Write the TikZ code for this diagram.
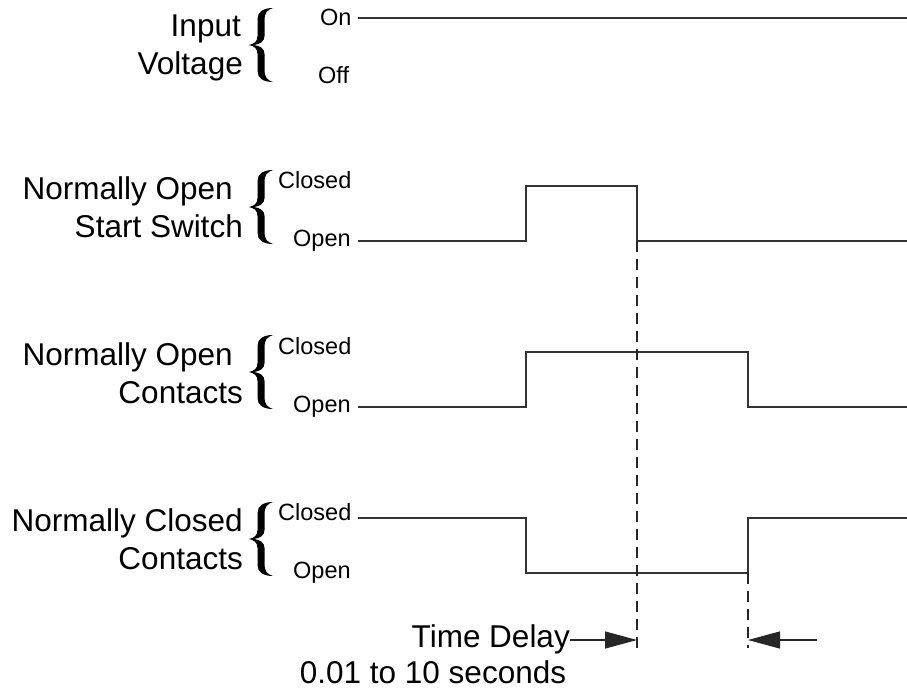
\documentclass[tikz,border=0pt]{standalone}
\usepackage{fontspec}
\setmainfont{Liberation Sans}
\usetikzlibrary{arrows.meta}
\tikzset{
  biglbl/.style={anchor=base east,inner sep=0pt,font=\fontsize{31.5}{31.5}\selectfont},
  smalllbl/.style={anchor=base west,inner sep=0pt,font=\fontsize{23.5}{23.5}\selectfont},
  wave/.style={line width=1.3pt,draw=black!80,line join=miter},
  guide/.style={line width=1.2pt,draw=black!85,dash pattern=on 11pt off 7pt},
  dimarrow/.style={line width=1.2pt,draw=black!85,-{Triangle[length=32pt,width=17pt]}},
  bigbrace/.pic={
    \fill[black] (24,-37) .. controls (14,-37) and (8.5,-33) .. (8.5,-26) -- (8.5,-9)
      .. controls (8.5,-3.5) and (5,-1) .. (0,0)
      .. controls (5,1) and (8.5,3.5) .. (8.5,9) -- (8.5,26)
      .. controls (8.5,33) and (14,37) .. (24,37)
      .. controls (18,35.5) and (15.5,31) .. (15.5,26) -- (15.5,9)
      .. controls (15.5,3.5) and (11,0.8) .. (5,0)
      .. controls (11,-0.8) and (15.5,-3.5) .. (15.5,-9) -- (15.5,-26)
      .. controls (15.5,-31) and (18,-35.5) .. (24,-37) -- cycle;
  }
}
\begin{document}
\begin{tikzpicture}[x=1pt,y=-1pt]
\useasboundingbox (0,0) rectangle (907,691);

% Input voltage
\node[biglbl] (in1) at (241,36) {Input};
\node[biglbl] (in2) at (243,74) {Voltage};
\pic at (249,45) {bigbrace};
\node[smalllbl] (on) at (320,25) {On};
\node[smalllbl] (off) at (318,83) {Off};
\draw[wave] (358,18) -- (907,18);

% Start switch
\node[biglbl] (ss1) at (233,199) {Normally Open};
\node[biglbl] (ss2) at (243,237) {Start Switch};
\pic at (249,207) {bigbrace};
\node[smalllbl] (ssc) at (278,188) {Closed};
\node[smalllbl] (sso) at (293,246) {Open};
\draw[wave] (358,241) -- (526,241) -- (526,186) -- (637,186) -- (637,241) -- (907,241);

% NO contacts
\node[biglbl] (no1) at (233,365) {Normally Open};
\node[biglbl] (no2) at (243,403) {Contacts};
\pic at (249,372) {bigbrace};
\node[smalllbl] (noc) at (278,354) {Closed};
\node[smalllbl] (noo) at (293,412) {Open};
\draw[wave] (358,407) -- (526,407) -- (526,352) -- (748,352) -- (748,407) -- (907,407);

% NC contacts
\node[biglbl] (nc1) at (243,531) {Normally Closed};
\node[biglbl] (nc2) at (243,569) {Contacts};
\pic at (249,539) {bigbrace};
\node[smalllbl] (ncc) at (278,520) {Closed};
\node[smalllbl] (nco) at (293,578) {Open};
\draw[wave] (358,518) -- (526,518) -- (526,573) -- (748,573) -- (748,518) -- (907,518);

% guides
\coordinate (g1t) at (637,241);
\coordinate (g1b) at (637,648);
\coordinate (g2t) at (748,573);
\coordinate (g2b) at (748,648);
\draw[guide] (g1t) -- (g1b);
\draw[guide] (g2t) -- (g2b);

% time delay
\node[anchor=base east,inner sep=0pt,font=\fontsize{31.5}{31.5}\selectfont] (td) at (570,647) {Time Delay};
\node[anchor=base,inner sep=0pt,font=\fontsize{31.5}{31.5}\selectfont] (sec) at (433,683) {0.01 to 10 seconds};
\coordinate (a1) at (637,640);
\coordinate (a2) at (748,640);
\coordinate (a2s) at (817,640);
\draw[dimarrow] (td.east |- a1) -- (a1);
\draw[dimarrow] (a2s) -- (a2);
\end{tikzpicture}
\end{document}
